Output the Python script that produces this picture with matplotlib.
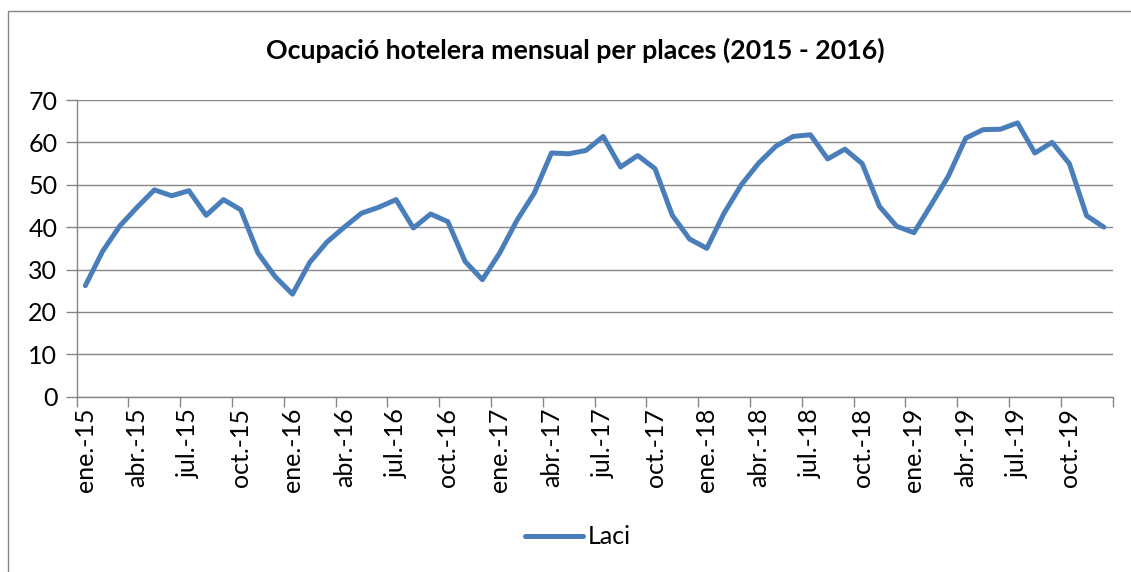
import matplotlib
matplotlib.use("Agg")
import matplotlib.pyplot as plt
from matplotlib.patches import Rectangle
from matplotlib.ticker import FixedLocator, NullFormatter, FixedFormatter

plt.rcParams['font.family'] = ['Lato', 'DejaVu Sans']

months = ['ene.', 'feb.', 'mar.', 'abr.', 'may.', 'jun.',
          'jul.', 'ago.', 'sep.', 'oct.', 'nov.', 'dic.']
years = ['15', '16', '17', '18', '19']
categories = [f"{m}-{y}" for y in years for m in months]

laci = [26.2, 34.3, 40.3, 44.7, 48.8, 47.4, 48.6, 42.8, 46.5, 44.1, 33.9, 28.3,
        24.2, 31.7, 36.5, 40.0, 43.3, 44.7, 46.5, 39.8, 43.1, 41.3, 31.9, 27.6,
        33.9, 41.6, 48.0, 57.5, 57.3, 58.1, 61.4, 54.2, 56.9, 53.8, 42.8, 37.2,
        35.0, 43.3, 50.0, 55.1, 59.1, 61.4, 61.8, 56.1, 58.4, 55.0, 44.9, 40.2,
        38.7, 45.3, 52.1, 61.0, 63.0, 63.1, 64.6, 57.5, 60.0, 55.0, 42.7, 40.0]

title = "Ocupació hotelera mensual per places (2015 - 2016)"
series_name = "Laci"
yticks = [0, 10, 20, 30, 40, 50, 60, 70]

W, H = 1131, 572
fig = plt.figure(figsize=(W / 100, H / 100), dpi=100)

grey = '#868686'
# outer chart frame (cut at right and bottom in reference)
fig.patches.append(Rectangle((8 / W, -0.05), 1.2, 1 - 10.5 / H + 0.05,
                             transform=fig.transFigure, fill=False,
                             edgecolor=grey, linewidth=1.0))

ax = fig.add_axes([76.7 / W, 1 - 396.7 / H, (1112.5 - 76.7) / W, (396.7 - 100) / H])

x = list(range(len(laci)))
line, = ax.plot(x, laci, color='#4A7EBB', linewidth=3.6, solid_joinstyle='round',
                solid_capstyle='round', label=series_name, zorder=3)

ax.set_xlim(-0.5, len(laci) - 0.5)
ax.set_ylim(0, 70)

ax.set_yticks(yticks)
ax.set_yticklabels([str(v) for v in yticks])
ax.yaxis.grid(True, color=grey, linewidth=1.0)
ax.set_axisbelow(True)

# major ticks at category boundaries, labels at category centres
bounds = [i - 0.5 for i in range(0, len(laci) + 1, 3)]
ax.xaxis.set_major_locator(FixedLocator(bounds))
ax.xaxis.set_major_formatter(NullFormatter())
centres = list(range(0, len(laci), 3))
ax.xaxis.set_minor_locator(FixedLocator(centres))
ax.xaxis.set_minor_formatter(FixedFormatter([categories[i] for i in centres]))
ax.tick_params(axis='x', which='major', length=7, color=grey, width=1.0, direction='out')
ax.tick_params(axis='x', which='minor', length=0, labelsize=18, rotation=90, pad=8)
ax.tick_params(axis='y', length=8, color=grey, width=1.0, labelsize=18, pad=6)

for s in ['top', 'right']:
    ax.spines[s].set_visible(False)
for s in ['left', 'bottom']:
    ax.spines[s].set_color(grey)
    ax.spines[s].set_linewidth(1.0)

fig.text(575.5 / W, 1 - 50 / H, title, ha='center', va='center',
         fontsize=19.3, fontweight='bold')

fig.legend(handles=[line], loc='center', bbox_to_anchor=(578 / W, 1 - 537 / H),
           frameon=False, fontsize=18, handlelength=2.3, handletextpad=0.2)

fig.savefig('out.png', dpi=100)
